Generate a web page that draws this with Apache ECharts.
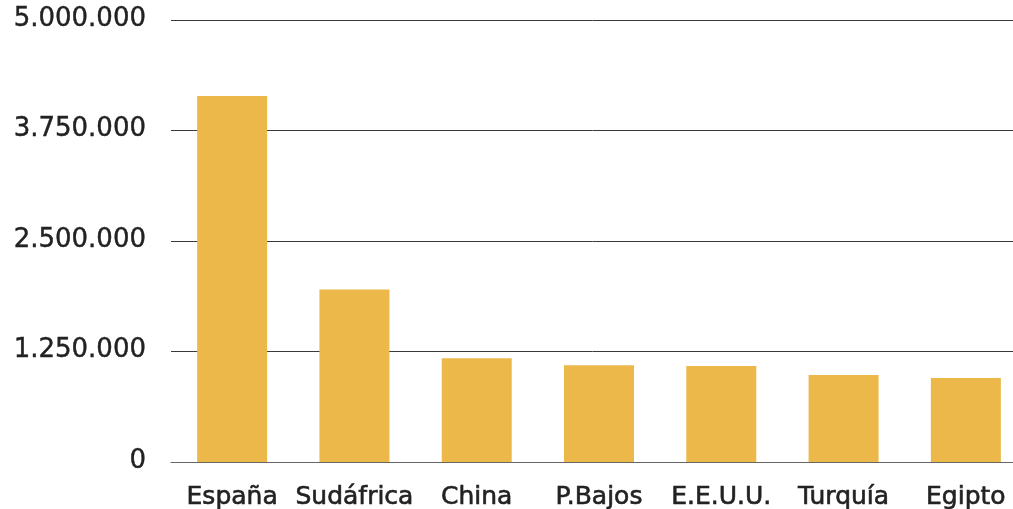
<!DOCTYPE html>
<html>
<head>
<meta charset="utf-8">
<script src="https://cdn.jsdelivr.net/npm/echarts@6/dist/echarts.min.js"></script>
<style>
html,body{margin:0;padding:0;background:#fff;}
#chart{width:1013px;height:509px;}
</style>
</head>
<body>
<div id="chart"></div>
<script>
const categories = ['España', 'Sudáfrica', 'China', 'P.Bajos', 'E.E.U.U.', 'Turquía', 'Egipto'];
const values = [4140000, 1950000, 1175000, 1095000, 1085000, 985000, 950000];
const yTicks = [0, 1250000, 2500000, 3750000, 5000000];

function fmt(v) {
  return String(v).replace(/\B(?=(\d{3})+(?!\d))/g, '.');
}

const chart = echarts.init(document.getElementById('chart'), null, {renderer: 'canvas'});
chart.setOption({
  animation: false,
  backgroundColor: '#fff',
  grid: {left: 171, top: 20, width: 856, height: 442, containLabel: false, outerBoundsMode: 'none'},
  xAxis: {
    type: 'category',
    data: categories,
    axisLine: {show: true, lineStyle: {color: '#666', width: 1}},
    axisTick: {show: false},
    axisLabel: {
      color: '#222',
      fontFamily: 'DejaVu Sans',
      fontSize: 25,
      margin: 23,
      interval: 0,
      textBorderColor: '#222',
      textBorderWidth: 0.6
    }
  },
  yAxis: {
    type: 'value',
    min: yTicks[0],
    max: yTicks[yTicks.length - 1],
    interval: yTicks[1] - yTicks[0],
    axisLine: {show: false},
    axisTick: {show: false},
    splitLine: {lineStyle: {color: '#3a3a3a', width: 1}},
    axisLabel: {
      color: '#222',
      fontFamily: 'DejaVu Sans',
      fontSize: 26,
      margin: 25,
      verticalAlign: 'bottom',
      padding: [0, 0, -12, 0],
      textBorderColor: '#222',
      textBorderWidth: 0.4,
      formatter: v => fmt(v)
    }
  },
  series: [{
    type: 'bar',
    data: values,
    barWidth: 70,
    itemStyle: {color: '#ECB84A'}
  }]
});
</script>
</body>
</html>
